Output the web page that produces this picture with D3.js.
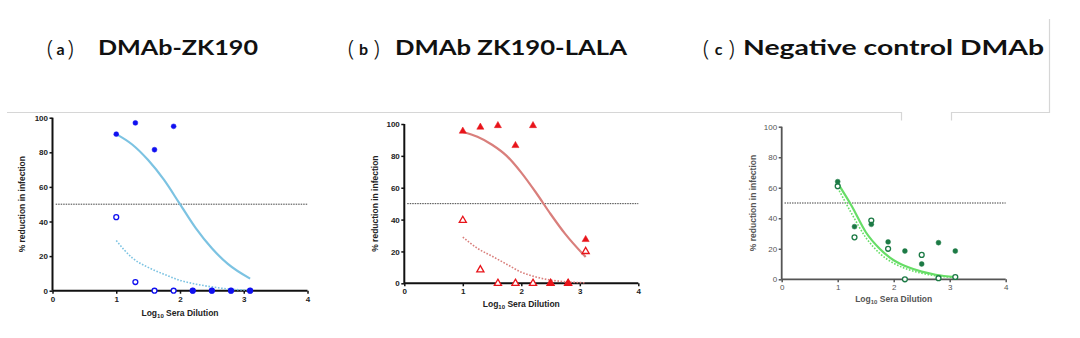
<!DOCTYPE html>
<html>
<head>
<meta charset="utf-8">
<script src="https://cdn.jsdelivr.net/npm/d3@7"></script>
<style>
  html, body { margin: 0; padding: 0; background: #fff; }
  svg { display: block; }
</style>
</head>
<body>
<svg id="chart" width="1080" height="338"></svg>
<script>
// Log10 serum dilutions tested
const dilutions = [1, 1.3, 1.6, 1.9, 2.2, 2.5, 2.8, 3.1];

// % reduction in infection, two groups per DMAb (filled / open markers)
const zk190Filled = [90.5, 97, 81.5, 95, 0, 0, 0, 0];
const zk190Open   = [42.5, 5, 0, 0, 0, 0, 0, 0];
const lalaFilled  = [95.5, 98, 99, 86.5, 99, 0, 0, 27.5];
const lalaOpen    = [39.5, 8.5, 0, 0, 0, 0, 0, 20];
const ctrlFilled  = [64, 34.5, 36, 24.5, 18.5, 10, 24, 18.5];
const ctrlOpen    = [61, 27.5, 38.5, 20, 0, 16, 0.7, 1.5];

// Fitted dose-response curves (solid = filled group, dotted = open group)
const fitX         = [1, 1.25, 1.5, 1.75, 2, 2.25, 2.5, 2.75, 3.1];
const zk190Fit     = [90.5, 84.5, 75.5, 64, 50, 36, 24.5, 15.5, 7];
const zk190FitOpen = [29, 19, 13.5, 9.5, 6, 3.8, 2.2, 1, 0.3];
const lalaFit      = [95, 92, 87, 80, 69.5, 57, 43.5, 31, 16.5];
const lalaFitOpen  = [29, 22, 17, 12, 7, 4, 2, 1, 0.3];
const ctrlFit      = [63, 48, 31, 20, 12.5, 8, 5, 3, 1.5];
const ctrlFitOpen  = [60, 43, 27.5, 17, 10.5, 6.5, 4, 2.3, 1.2];

// Axis ticks and reference level
const xTicks = [0, 1, 2, 3, 4];
const yTicks = [0, 20, 40, 60, 80, 100];
const halfLevel = 50;

const titles = [
  { tag: "a", text: "DMAb-ZK190" },
  { tag: "b", text: "DMAb ZK190-LALA" },
  { tag: "c", text: "Negative control DMAb" }
];

const svg = d3.select("#chart");

// light frame around the lower part of the figure
const frame = svg.append("g").attr("fill", "none").attr("stroke", "#d6d6d6").attr("stroke-width", 1.2);
frame.append("path").attr("d", "M7,112.5 H901.5 V120.5 M951.5,120.5 V112.5 H1049.5 V19");

// panel titles
const titleLayout = [
  { p1: 50, tag: 60.5, p2: 70.5, x: 98, w: 160 },
  { p1: 351, tag: 363.5, p2: 376.5, x: 395, w: 232 },
  { p1: 706, tag: 718.5, p2: 731.5, x: 743, w: 301 }
];
titles.forEach((t, i) => {
  const L = titleLayout[i];
  const g = svg.append("g");
  g.append("text").attr("x", L.p1).attr("y", 55.5).attr("text-anchor", "middle")
    .attr("font-family", "Noto Sans").attr("font-weight", 300).attr("font-size", 22).attr("fill", "#111").text("(");
  g.append("text").attr("x", L.tag).attr("y", 54.5).attr("text-anchor", "middle")
    .attr("font-family", "Lato").attr("font-weight", 700).attr("font-size", 16).attr("fill", "#111").text(t.tag);
  g.append("text").attr("x", L.p2).attr("y", 55.5).attr("text-anchor", "middle")
    .attr("font-family", "Noto Sans").attr("font-weight", 300).attr("font-size", 22).attr("fill", "#111").text(")");
  g.append("text").attr("x", L.x).attr("y", 55)
    .attr("font-family", "Lato").attr("font-weight", 700).attr("font-size", 20).attr("fill", "#111")
    .attr("textLength", L.w).attr("lengthAdjust", "spacingAndGlyphs").text(t.text);
});

// panel definitions
const panels = [
  {
    x0: 52.5, x1: 307.5, y0: 290.7, y1: 117.7,
    filled: zk190Filled, open: zk190Open, fit: zk190Fit, fitOpen: zk190FitOpen,
    marker: "circle", pointColor: "#1010f0", curveColor: "#7cc3e2",
    axisColor: "#111", labelColor: "#222", labelWeight: 700, axisWidth: 2,
    yTitleX: 25, xTitleY: 316, xLabelY: 303
  },
  {
    x0: 404.3, x1: 638.3, y0: 283.3, y1: 124,
    filled: lalaFilled, open: lalaOpen, fit: lalaFit, fitOpen: lalaFitOpen,
    marker: "triangle", pointColor: "#e8141a", curveColor: "#d97f7c",
    axisColor: "#111", labelColor: "#222", labelWeight: 700, axisWidth: 2,
    yTitleX: 378, xTitleY: 307, xLabelY: 294
  },
  {
    x0: 781.7, x1: 1005.7, y0: 279.3, y1: 126.7,
    filled: ctrlFilled, open: ctrlOpen, fit: ctrlFit, fitOpen: ctrlFitOpen,
    marker: "circle", pointColor: "#1c7a45", curveColor: "#66dd66",
    axisColor: "#555", labelColor: "#555", labelWeight: 400, axisWidth: 1.8,
    yTitleX: 756, xTitleY: 302, xLabelY: 290
  }
];

panels.forEach(P => {
  const x = d3.scaleLinear().domain([0, 4]).range([P.x0, P.x1]);
  const y = d3.scaleLinear().domain([0, 100]).range([P.y0, P.y1]);
  const g = svg.append("g");

  // 50% reference line
  g.append("line")
    .attr("x1", x(0.05)).attr("x2", x(4)).attr("y1", y(halfLevel)).attr("y2", y(halfLevel))
    .attr("stroke", "#444").attr("stroke-width", 1).attr("stroke-dasharray", "1.5,1");

  // axes
  const yAxis = g.append("g").attr("transform", `translate(${P.x0},0)`)
    .call(d3.axisLeft(y).tickValues(yTicks).tickFormat(d3.format("d")).tickSize(3).tickPadding(1.5));
  const xAxis = g.append("g").attr("transform", `translate(0,${P.y0})`)
    .call(d3.axisBottom(x).tickValues(xTicks).tickFormat(d3.format("d")).tickSize(3).tickPadding(2.5));
  [yAxis, xAxis].forEach(a => {
    a.select(".domain").attr("stroke", P.axisColor).attr("stroke-width", P.axisWidth);
    a.selectAll(".tick line").attr("stroke", P.axisColor).attr("stroke-width", 1.5);
    a.selectAll(".tick text")
      .attr("font-family", "Liberation Sans, Arial, sans-serif")
      .attr("font-size", 8).attr("font-weight", P.labelWeight).attr("fill", P.labelColor);
  });
  yAxis.select(".domain").attr("d", `M0,${P.y0}V${P.y1}`);
  xAxis.select(".domain").attr("d", `M${P.x0},0H${P.x1}`);

  // axis titles
  g.append("text")
    .attr("transform", `translate(${P.yTitleX},${(P.y0 + P.y1) / 2}) rotate(-90)`)
    .attr("text-anchor", "middle")
    .attr("font-family", "Liberation Sans, Arial, sans-serif")
    .attr("font-size", 8.5).attr("font-weight", 700).attr("fill", P.labelColor)
    .text("% reduction in infection");
  const xt = g.append("text")
    .attr("x", x(2)).attr("y", P.xTitleY).attr("text-anchor", "middle")
    .attr("font-family", "Liberation Sans, Arial, sans-serif")
    .attr("font-size", 8.5).attr("font-weight", 700).attr("fill", P.labelColor);
  xt.append("tspan").text("Log");
  xt.append("tspan").attr("font-size", 6).attr("dy", 2).text("10");
  xt.append("tspan").attr("dy", -2).text(" Sera Dilution");

  // fitted curves
  const line = d3.line().x(d => x(d[0])).y(d => y(d[1])).curve(d3.curveMonotoneX);
  g.append("path").datum(d3.zip(fitX, P.fitOpen)).attr("d", line)
    .attr("fill", "none").attr("stroke", P.curveColor).attr("stroke-width", 1.6)
    .attr("stroke-dasharray", "1.6,1.6");
  g.append("path").datum(d3.zip(fitX, P.fit)).attr("d", line)
    .attr("fill", "none").attr("stroke", P.curveColor).attr("stroke-width", 2.2);

  // data markers
  const sym = P.marker === "triangle"
    ? d3.symbol().type(d3.symbolTriangle).size(22)
    : d3.symbol().type(d3.symbolCircle).size(19);
  const drawPoints = (vals, filled) => {
    g.append("g").selectAll("path")
      .data(d3.zip(dilutions, vals))
      .join("path")
      .attr("transform", d => `translate(${x(d[0])},${y(d[1])})`)
      .attr("d", sym)
      .attr("fill", filled ? P.pointColor : "#fff")
      .attr("stroke", P.pointColor)
      .attr("stroke-width", filled ? 0.5 : 1.3);
  };
  drawPoints(P.open, false);
  drawPoints(P.filled, true);
});
</script>
</body>
</html>
